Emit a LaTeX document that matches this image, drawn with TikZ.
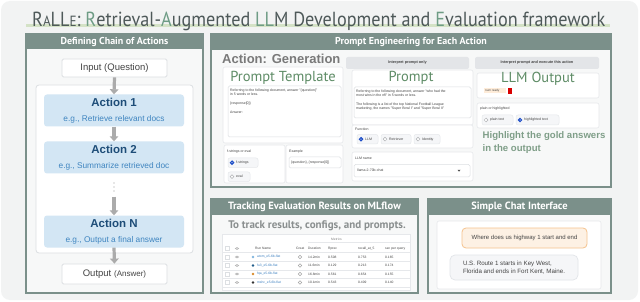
\documentclass[tikz,border=0pt]{standalone}
\usepackage{fontspec}
\setmainfont{Liberation Sans}
\newfontfamily\hdrfont{PT Sans}
\newfontfamily\dinfont{PT Sans}
\usetikzlibrary{arrows.meta}
\definecolor{outerbg}{HTML}{F2F3F3}
\definecolor{hdrcol}{HTML}{7B908A}
\definecolor{panelbg}{HTML}{F7F8F8}
\definecolor{ttlgrey}{HTML}{4E5959}
\definecolor{ttlgreen}{HTML}{6E9C85}
\definecolor{ulcol}{HTML}{D4E2C6}
\definecolor{actfill}{HTML}{D3E6F4}
\definecolor{acttitle}{HTML}{1E4D78}
\definecolor{actsub}{HTML}{3F85C0}
\definecolor{arrowgray}{HTML}{ABABAB}
\definecolor{lightbord}{HTML}{DCDFE2}
\definecolor{uibord}{HTML}{E6E8EB}
\definecolor{greentitle}{HTML}{5E8C66}
\definecolor{btnfill}{HTML}{E3E5E8}
\definecolor{uitext}{HTML}{444444}
\definecolor{radioblue}{HTML}{1F4FC8}
\definecolor{userfill}{HTML}{FDF1E4}
\definecolor{userbord}{HTML}{F5C28D}
\definecolor{botfill}{HTML}{F5F6F8}
\definecolor{botbord}{HTML}{E2E5E9}
\definecolor{hlgreen}{HTML}{7F9E88}
\definecolor{trackgrey}{HTML}{8A8F8F}
\definecolor{linkblue}{HTML}{3A7FC0}
\begin{document}
\begin{tikzpicture}[x=1pt,y=-1pt,
  panel/.style={draw=hdrcol,line width=1.3pt,fill=panelbg},
  hdrbar/.style={fill=hdrcol},
  hdrtxt/.style={text=white,font=\hdrfont\bfseries\fontsize{10}{12}\selectfont,inner sep=0},
  actbox/.style={fill=actfill,rounded corners=3pt,minimum width=140pt,minimum height=32pt,align=center,inner sep=0},
  iobox/.style={draw=lightbord,line width=0.8pt,fill=white,rounded corners=1.5pt,minimum width=105pt,inner sep=0,text=uitext},
  flow/.style={draw=arrowgray,line width=3.2pt,-{Triangle[length=5pt,width=8.5pt]}},
  uibox/.style={draw=uibord,line width=0.6pt,fill=white,rounded corners=2pt},
  tiny/.style={font=\fontsize{3.5}{4.2}\selectfont,text=uitext,inner sep=0},
  greenttl/.style={font=\dinfont\fontsize{14.5}{16}\selectfont,text=greentitle,inner sep=0},
  chip/.style={draw=uibord,line width=0.5pt,fill=botfill,rounded corners=2pt},
  radio/.style={draw=lightbord!80!black,line width=0.5pt,fill=white},
  radiosel/.style={draw=radioblue,line width=1.2pt,fill=white},
  btn/.style={fill=btnfill,rounded corners=2pt},
  tbl/.style={font=\fontsize{3.3}{4}\selectfont,text=uitext,inner sep=0,anchor=west},
  tbllink/.style={font=\fontsize{3.3}{4}\selectfont,text=linkblue,inner sep=0,anchor=west}]
\useasboundingbox (0,0) rectangle (640,302);
\fill[white] (0,0) rectangle (640,302);
\fill[outerbg,rounded corners=9pt] (1,1) rectangle (638,300);

% ---------- title
\fill[ulcol] (26,24) rectangle (610,27.5);
\node[anchor=base west,inner sep=0,text=ttlgrey] (title) at (32,27) {\resizebox{573pt}{14.5pt}{\hdrfont\fontsize{20}{24}\selectfont R{\fontsize{14.5}{15}\selectfont A}LL{\fontsize{14.5}{15}\selectfont E}: \textcolor{ttlgreen}{R}etrieval-\textcolor{ttlgreen}{A}ugmented \textcolor{ttlgreen}{LL}M Development and \textcolor{ttlgreen}{E}valuation framework}};

% ---------- left panel
\draw[panel] (26,34) rectangle (203,293);
\fill[hdrbar] (26,34) rectangle (203,49);
\node[hdrtxt] (lefthdr) at (114.5,41.5) {Defining Chain of Actions};
\draw[draw=lightbord,line width=0.8pt,fill=white,rounded corners=3pt] (36,85) rectangle (193,253);
\node[iobox,minimum height=18pt,font=\fontsize{9.5}{11}\selectfont] (in) at (114.5,68) {Input (Question)};
\node[actbox] (a1) at (114,110.5) {{\bfseries\fontsize{11.5}{13}\selectfont\color{acttitle}Action 1}\\[3pt]{\fontsize{8.3}{10}\selectfont\color{actsub}e.g., Retrieve relevant docs}};
\node[actbox] (a2) at (114,157.5) {{\bfseries\fontsize{11.5}{13}\selectfont\color{acttitle}Action 2}\\[3pt]{\fontsize{8.3}{10}\selectfont\color{actsub}e.g., Summarize retrieved doc}};
\node[actbox] (aN) at (114,231.5) {{\bfseries\fontsize{11.5}{13}\selectfont\color{acttitle}Action N}\\[3pt]{\fontsize{8.3}{10}\selectfont\color{actsub}e.g., Output a final answer}};
\node[iobox,minimum height=20pt] (out) at (114.5,274) {{\fontsize{9.5}{11}\selectfont Output} {\fontsize{8}{10}\selectfont(Answer)}};
\foreach \yy in {183,187,191} \fill[gray!80] (114,\yy) circle (0.55);
\coordinate (dotsend) at (114,196.5);
\draw[flow] (in.south) -- (a1.north);
\draw[flow] (a1.south) -- (a2.north);
\draw[flow] (dotsend) -- (aN.north);
\draw[flow] (aN.south) -- (out.north);

% ---------- prompt engineering panel
\draw[panel] (211,34) rectangle (611,187);
\fill[hdrbar] (211,34) rectangle (611,50);
\node[hdrtxt] (pehdr) at (411,42) {Prompt Engineering for Each Action};
\node[anchor=west,inner sep=0,text=gray!95!black,font=\bfseries\fontsize{13}{15}\selectfont] (actgen) at (222,59) {Action: Generation};
% column 1
\draw[uibox] (223,67) rectangle (343,143);
\node[greenttl] (ptttl) at (283,77.5) {Prompt Template};
\draw[draw=lightbord,line width=0.5pt,fill=white,rounded corners=1.5pt] (228,86) rectangle (341,137);
\node[tiny,anchor=north west,align=left] (pttxt) at (230,88.5) {Referring to the following document, answer "\{question\}"\\in 5 words or less.\\[4.5pt]\{response[0]\}\\[5.5pt]Answer:};
\draw[uibox] (224,145) rectangle (285,183);
\draw[uibox] (286,145) rectangle (343,183);
\node[tiny,anchor=west] (fslbl) at (227,152) {f-strings or eval};
\draw[chip] (228,158) rectangle (258,167.5);
\draw[radiosel] (232,162.7) circle (1.6);
\node[tiny,anchor=west] (fsopt) at (236,162.7) {f-strings};
\draw[chip] (228,172) rectangle (250,181.5);
\draw[radio] (232,176.7) circle (1.9);
\node[tiny,anchor=west] (evopt) at (236,176.7) {eval};
\node[tiny,anchor=west] (exlbl) at (289,152) {Example};
\draw[draw=lightbord,line width=0.5pt,fill=white,rounded corners=1.5pt] (289,157) rectangle (341,168);
\node[tiny,anchor=west] (exval) at (291,162.5) {\{question\}, \{response[0]\}};
% column 2
\fill[btn] (346,57) rectangle (469,69);
\node[tiny,font=\bfseries\fontsize{3.8}{4.5}\selectfont] (btn1) at (407.5,63) {Interpret prompt only};
\draw[uibox] (352,70) rectangle (473,125);
\node[greenttl] (prttl) at (411,78) {Prompt};
\draw[draw=lightbord,line width=0.5pt,fill=white,rounded corners=1.5pt] (354,87) rectangle (471,118);
\node[tiny,anchor=north west,align=left] (prtxt) at (356,90) {Referring to the following document, answer "who had the\\most wins in the nfl" in 5 words or less.\\[4.5pt]The following is a list of the top National Football League\\marketing, the names "Super Bowl I" and "Super Bowl II"};
\draw[uibox] (352,125) rectangle (473,148);
\node[tiny,anchor=west] (fnlbl) at (355,129.5) {Function};
\draw[chip] (357,134.5) rectangle (378,144);
\draw[radiosel] (361,139.2) circle (1.6);
\node[tiny,anchor=west] (fnllm) at (365,139.2) {LLM};
\draw[chip] (381,134.5) rectangle (411,144);
\draw[radio] (385,139.2) circle (1.9);
\node[tiny,anchor=west] (fnret) at (389,139.2) {Retriever};
\draw[chip] (414,134.5) rectangle (440,144);
\draw[radio] (418,139.2) circle (1.9);
\node[tiny,anchor=west] (fnid) at (422,139.2) {Identity};
\draw[uibox] (352,152) rectangle (473,181);
\node[tiny,anchor=west] (llmlbl) at (355,158) {LLM name};
\draw[draw=lightbord,line width=0.5pt,fill=white,rounded corners=1.5pt] (354,164.5) rectangle (470,177);
\node[tiny,anchor=west] (llmval) at (357,170.7) {llama-2-70b-chat};
\fill[uitext] (457.5,169.8) -- (460.5,169.8) -- (459,171.6) -- cycle;
% column 3
\fill[btn] (475,57) rectangle (599,69);
\node[tiny,font=\bfseries\fontsize{3.8}{4.5}\selectfont] (btn2) at (537,63) {Interpret prompt and execute this action};
\draw[uibox] (477,73) rectangle (599,98);
\node[greenttl] (outttl) at (538,78.5) {LLM Output};
\fill[userfill!70!orange!40] (484,88) rectangle (506,93.5);
\node[tiny,anchor=west,font=\fontsize{3}{4}\selectfont] (numready) at (485,90.7) {num ready};
\draw[fill=red!85!black,draw=white,line width=0.4pt] (507,87.5) rectangle (512.5,94);
\draw[uibox] (477,103) rectangle (599,128);
\node[tiny,anchor=west] (pllbl) at (480,109) {plain or highlighted};
\draw[chip] (482,115) rectangle (513,125);
\draw[radio] (486,120) circle (1.9);
\node[tiny,anchor=west] (plopt) at (490,120) {plain text};
\draw[chip] (516,115) rectangle (559,125);
\draw[radiosel] (520,120) circle (1.6);
\node[tiny,anchor=west] (hlopt) at (524,120) {highlighted text};
\node[anchor=north west,inner sep=0,align=left,text=hlgreen,font=\bfseries\fontsize{9.6}{13.2}\selectfont] (hltxt) at (482.5,131.5) {Highlight the gold answers\\in the output};

% ---------- MLflow panel
\draw[panel] (211,199) rectangle (418,293);
\fill[hdrbar] (211,199) rectangle (418,215);
\node[hdrtxt,font=\hdrfont\bfseries\fontsize{10.5}{12}\selectfont] (mlhdr) at (314.5,207) {Tracking Evaluation Results on MLflow};
\node[inner sep=0,text=trackgrey,font=\hdrfont\bfseries\fontsize{11}{13}\selectfont] (mltrack) at (317,225.5) {To track results, configs, and prompts.};
\draw[draw=uibord,line width=0.5pt,fill=white] (222,234) rectangle (410,290);
\node[tbl,text=gray] (metrics) at (331,239.5) {Metrics};
\draw[uibord,line width=0.4pt] (308,242.5) -- (410,242.5);
\draw[uibord,line width=0.4pt] (222,252.5) -- (410,252.5);
\draw[draw=lightbord,line width=0.4pt] (225,246.5) rectangle (229,250.5);
\draw[gray!70,line width=0.5pt] (237,248.5) ellipse (1.6 and 1);
\node[tbl] (h1) at (255,248.5) {Run Name};
\node[tbl] (h2) at (296,248.5) {Creat};
\node[tbl] (h3) at (308,248.5) {Duration};
\node[tbl] (h4) at (328,248.5) {Rprec};
\node[tbl] (h5) at (358,248.5) {recall\_at\_5};
\node[tbl] (h6) at (385,248.5) {sec per query};
\foreach \yy/\dc/\rn/\du/\rp/\rc/\sq [count=\i] in {
  257/7FB6DE/atom\_e5-6b-flat/14.2min/0.508/0.753/0.165,
  265.5/1F5C8A/fu3\_e5-6b-flat/11.6min/0.129/0.213/0.174,
  274/D98A2B/fqa\_e5-6b-flat/16.8min/0.561/0.654/0.155,
  282.5/333333/mshc\_e5-6b-flat/10.1min/0.543/0.409/0.140}{
  \definecolor{dotc}{HTML}{\dc}
  \draw[draw=lightbord,line width=0.4pt] (225,\yy-2) rectangle (229,\yy+2);
  \draw[gray!70,line width=0.5pt] (237,\yy) ellipse (1.6 and 1);
  \fill[dotc] (253,\yy) circle (1.4);
  \node[tbllink] (rn\i) at (257,\yy) {\rn};
  \draw[gray!70,line width=0.5pt] (300,\yy) circle (1.8);
  \node[tbl] (du\i) at (308,\yy) {\du};
  \node[tbl] (rp\i) at (328,\yy) {\rp};
  \node[tbl] (rc\i) at (358,\yy) {\rc};
  \node[tbl] (sq\i) at (385,\yy) {\sq};
  \draw[uibord,line width=0.3pt] (222,\yy+4.2) -- (410,\yy+4.2);
}

% ---------- chat panel
\draw[panel] (428,199) rectangle (611,293);
\fill[hdrbar] (428,199) rectangle (611,215);
\node[hdrtxt,font=\hdrfont\bfseries\fontsize{10.5}{12}\selectfont] (chathdr) at (519.5,207) {Simple Chat Interface};
\draw[draw=uibord,line width=0.6pt,fill=white,rounded corners=2pt] (437,221) rectangle (601,289);
\node[draw=userbord,fill=userfill,line width=0.8pt,rounded corners=4pt,minimum width=125pt,minimum height=20pt,inner sep=0,text=uitext,font=\fontsize{6}{7}\selectfont] (user) at (524.5,238) {Where does us highway 1 start and end};
\node[draw=botbord,fill=botfill,line width=0.7pt,rounded corners=5pt,minimum width=128pt,minimum height=25pt,inner sep=0,text=uitext,align=left,font=\fontsize{6.2}{8.5}\selectfont] (bot) at (514,267.5) {U.S. Route 1 starts in Key West,\\Florida and ends in Fort Kent, Maine.};
\end{tikzpicture}
\end{document}
